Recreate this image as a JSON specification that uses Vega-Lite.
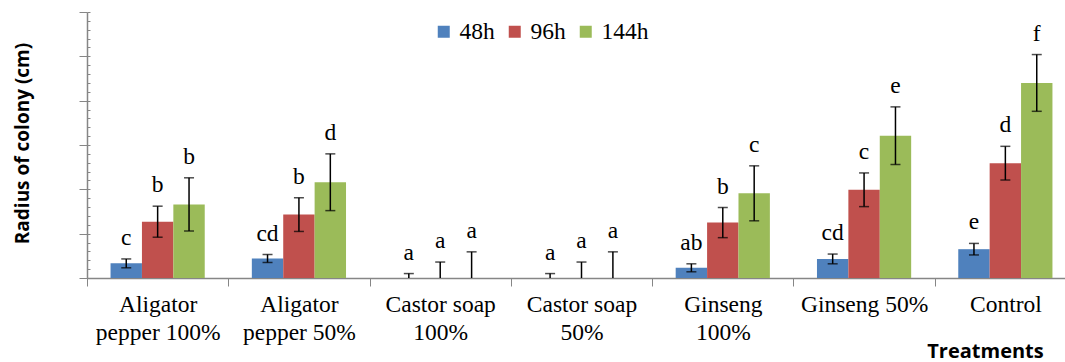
{
  "$schema": "https://vega.github.io/schema/vega-lite/v6.json",
  "width": 978,
  "height": 266,
  "autosize": {"type": "none"},
  "padding": {"left": 87, "top": 12, "right": 0, "bottom": 84},
  "background": "white",
  "config": {"view": {"stroke": null}, "font": "Liberation Serif"},
  "data": {
    "values": [
      {"treatment": "Aligator pepper 100%", "time": "48h", "mean": 0.33, "lo": 0.23, "hi": 0.43, "letter": "c"},
      {"treatment": "Aligator pepper 100%", "time": "96h", "mean": 1.27, "lo": 0.92, "hi": 1.62, "letter": "b"},
      {"treatment": "Aligator pepper 100%", "time": "144h", "mean": 1.66, "lo": 1.06, "hi": 2.26, "letter": "b"},
      {"treatment": "Aligator pepper 50%", "time": "48h", "mean": 0.44, "lo": 0.35, "hi": 0.53, "letter": "cd"},
      {"treatment": "Aligator pepper 50%", "time": "96h", "mean": 1.43, "lo": 1.05, "hi": 1.81, "letter": "b"},
      {"treatment": "Aligator pepper 50%", "time": "144h", "mean": 2.16, "lo": 1.52, "hi": 2.8, "letter": "d"},
      {"treatment": "Castor soap 100%", "time": "48h", "mean": 0, "lo": 0, "hi": 0.1, "letter": "a"},
      {"treatment": "Castor soap 100%", "time": "96h", "mean": 0, "lo": 0, "hi": 0.36, "letter": "a"},
      {"treatment": "Castor soap 100%", "time": "144h", "mean": 0, "lo": 0, "hi": 0.59, "letter": "a"},
      {"treatment": "Castor soap 50%", "time": "48h", "mean": 0, "lo": 0, "hi": 0.1, "letter": "a"},
      {"treatment": "Castor soap 50%", "time": "96h", "mean": 0, "lo": 0, "hi": 0.36, "letter": "a"},
      {"treatment": "Castor soap 50%", "time": "144h", "mean": 0, "lo": 0, "hi": 0.59, "letter": "a"},
      {"treatment": "Ginseng 100%", "time": "48h", "mean": 0.23, "lo": 0.14, "hi": 0.32, "letter": "ab"},
      {"treatment": "Ginseng 100%", "time": "96h", "mean": 1.25, "lo": 0.91, "hi": 1.59, "letter": "b"},
      {"treatment": "Ginseng 100%", "time": "144h", "mean": 1.91, "lo": 1.29, "hi": 2.53, "letter": "c"},
      {"treatment": "Ginseng 50%", "time": "48h", "mean": 0.43, "lo": 0.32, "hi": 0.54, "letter": "cd"},
      {"treatment": "Ginseng 50%", "time": "96h", "mean": 1.99, "lo": 1.61, "hi": 2.37, "letter": "c"},
      {"treatment": "Ginseng 50%", "time": "144h", "mean": 3.21, "lo": 2.56, "hi": 3.86, "letter": "e"},
      {"treatment": "Control", "time": "48h", "mean": 0.65, "lo": 0.52, "hi": 0.78, "letter": "e"},
      {"treatment": "Control", "time": "96h", "mean": 2.59, "lo": 2.21, "hi": 2.97, "letter": "d"},
      {"treatment": "Control", "time": "144h", "mean": 4.4, "lo": 3.76, "hi": 5.04, "letter": "f"}
    ]
  },
  "encoding": {
    "x": {
      "field": "treatment",
      "type": "nominal",
      "sort": ["Aligator pepper 100%", "Aligator pepper 50%", "Castor soap 100%", "Castor soap 50%", "Ginseng 100%", "Ginseng 50%", "Control"],
      "scale": {"paddingInner": 0, "paddingOuter": 0, "range": [0, 989]},
      "axis": {
        "title": "Treatments",
        "titleFont": "Open Sans",
        "titleFontWeight": "bold",
        "titleFontSize": 20,
        "titleColor": "black",
        "titleX": 898,
        "titleY": 73,
        "titleAlign": "center",
        "titleBaseline": "middle",
        "titleAnchor": null,
        "tickBand": "extent",
        "tickSize": 8,
        "tickColor": "#868686",
        "domainColor": "#868686",
        "domainWidth": 1.5,
        "labelAngle": 0,
        "labelFont": "Liberation Serif",
        "labelFontSize": 23.5,
        "labelColor": "black",
        "labelLineHeight": 28,
        "labelPadding": 6,
        "labelLimit": 300,
        "labelExpr": "datum.value == 'Aligator pepper 100%' ? ['Aligator','pepper 100%'] : datum.value == 'Aligator pepper 50%' ? ['Aligator','pepper 50%'] : datum.value == 'Castor soap 100%' ? ['Castor soap','100%'] : datum.value == 'Castor soap 50%' ? ['Castor soap','50%'] : datum.value == 'Ginseng 100%' ? ['Ginseng','100%'] : datum.value"
      }
    },
    "xOffset": {
      "field": "time",
      "type": "nominal",
      "sort": ["48h", "96h", "144h"],
      "scale": {"paddingInner": 0, "paddingOuter": 0.75}
    }
  },
  "layer": [
    {
      "layer": [
        {
          "mark": {"type": "bar"},
          "encoding": {
            "y": {
              "field": "mean",
              "type": "quantitative",
              "scale": {"domain": [0, 6], "nice": false},
              "axis": {
                "values": [0, 1, 2, 3, 4, 5, 6],
                "labels": false,
                "grid": false,
                "tickSize": 8,
                "tickColor": "#868686",
                "domainColor": "#868686",
                "domainWidth": 1.5,
                "title": "Radius of colony (cm)",
                "titleFont": "Open Sans",
                "titleFontWeight": "bold",
                "titleFontSize": 19,
                "titleColor": "black",
                "titleAngle": -90,
                "titleX": -65,
                "titleY": 131,
                "titleAlign": "center",
                "titleBaseline": "middle",
                "titleAnchor": null
              }
            },
            "color": {
              "field": "time",
              "type": "nominal",
              "scale": {"domain": ["48h", "96h", "144h"], "range": ["#4F81BD", "#C0504D", "#9BBB59"]},
              "legend": {
                "orient": "none",
                "legendX": 345,
                "legendY": 8,
                "direction": "horizontal",
                "title": null,
                "symbolType": "square",
                "symbolSize": 144,
                "symbolStrokeWidth": 0,
                "labelFont": "Liberation Serif",
                "labelFontSize": 23.5,
                "labelColor": "black",
                "labelOffset": 4,
                "gridAlign": "none",
                "columnPadding": 8,
                "padding": 0
              }
            }
          }
        },
        {
          "mark": {"type": "rule", "color": "black", "strokeWidth": 1.5},
          "encoding": {
            "y": {"field": "lo", "type": "quantitative"},
            "y2": {"field": "hi"}
          }
        },
        {
          "mark": {"type": "tick", "color": "black", "thickness": 1.5, "size": 10, "orient": "horizontal"},
          "encoding": {"y": {"field": "hi", "type": "quantitative"}}
        },
        {
          "transform": [{"filter": "datum.mean > 0"}],
          "mark": {"type": "tick", "color": "black", "thickness": 1.5, "size": 10, "orient": "horizontal"},
          "encoding": {"y": {"field": "lo", "type": "quantitative"}}
        },
        {
          "mark": {"type": "text", "font": "Liberation Serif", "fontSize": 23.5, "color": "black", "baseline": "alphabetic", "dy": -14},
          "encoding": {
            "y": {"field": "hi", "type": "quantitative"},
            "text": {"field": "letter"}
          }
        }
      ]
    },
    {
      "mark": {"type": "rule", "strokeOpacity": 0},
      "encoding": {
        "y": {
          "field": "mean",
          "type": "quantitative",
          "scale": {"domain": [0, 6], "nice": false},
          "axis": {
            "orient": "left",
            "values": [0, 0.2, 0.4, 0.6, 0.8, 1, 1.2, 1.4, 1.6, 1.8, 2, 2.2, 2.4, 2.6, 2.8, 3, 3.2, 3.4, 3.6, 3.8, 4, 4.2, 4.4, 4.6, 4.8, 5, 5.2, 5.4, 5.6, 5.8, 6],
            "labels": false,
            "domain": false,
            "grid": false,
            "tickSize": -3,
            "tickColor": "#868686",
            "title": null
          }
        }
      }
    }
  ],
  "resolve": {"scale": {"y": "independent"}, "axis": {"y": "independent"}}
}
